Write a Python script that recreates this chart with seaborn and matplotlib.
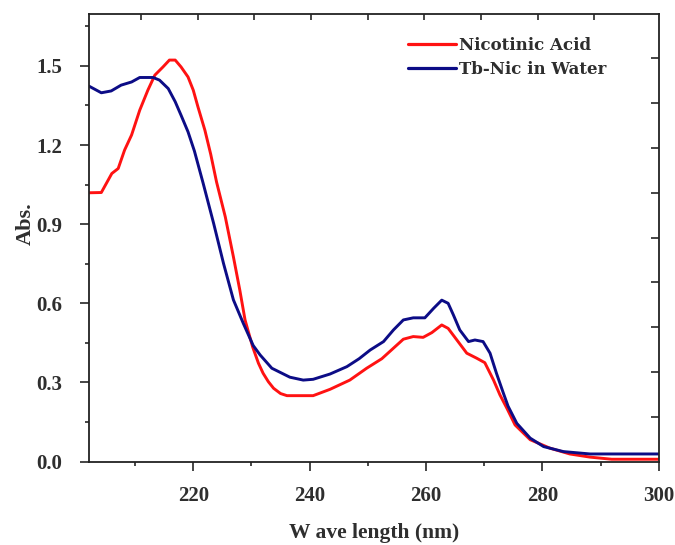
import numpy as np
import pandas as pd
import matplotlib
matplotlib.use("Agg")
import matplotlib.pyplot as plt
import seaborn as sns

# Nicotinic Acid
wl_red = [202.1, 204.2, 206.0, 207.1, 208.2, 209.4, 210.8, 212.2, 213.4, 214.8, 215.9, 216.9,
          217.9, 219.1, 220.0, 220.8, 222.0, 223.0, 224.0, 225.5, 226.9, 228.0, 228.9, 230.2,
          231.2, 232.0, 232.9, 233.8, 235.0, 236.1, 240.6, 243.5, 246.9, 249.8, 252.4, 254.4,
          256.1, 257.8, 259.5, 261.0, 262.7, 263.8, 265.3, 267.0, 268.7, 270.1, 271.6, 272.7,
          273.9, 275.3, 277.9, 281.3, 284.7, 288.2, 291.9, 300.0]
abs_red = [1.019, 1.020, 1.092, 1.111, 1.181, 1.238, 1.332, 1.408, 1.465, 1.496, 1.522, 1.522,
           1.496, 1.458, 1.408, 1.345, 1.256, 1.165, 1.060, 0.928, 0.776, 0.650, 0.537, 0.435,
           0.373, 0.335, 0.303, 0.278, 0.258, 0.250, 0.250, 0.274, 0.309, 0.354, 0.390, 0.430,
           0.464, 0.474, 0.471, 0.489, 0.518, 0.505, 0.461, 0.411, 0.392, 0.375, 0.309, 0.253,
           0.202, 0.139, 0.083, 0.051, 0.029, 0.017, 0.009, 0.009]

# Tb-Nic in Water
wl_blue = [202.1, 204.2, 205.9, 207.6, 209.4, 210.8, 213.1, 214.2, 215.7, 216.9, 217.9, 219.1,
           220.2, 221.7, 223.5, 225.2, 226.9, 228.6, 230.3, 231.5, 233.5, 236.6, 238.9, 240.6,
           243.5, 246.4, 248.5, 250.4, 252.7, 254.4, 256.1, 257.8, 259.8, 261.3, 262.7, 263.8,
           264.7, 265.8, 267.3, 268.4, 269.8, 271.0, 272.1, 273.3, 274.1, 275.6, 277.9, 280.2,
           283.6, 288.2, 300.0]
abs_blue = [1.423, 1.398, 1.405, 1.427, 1.439, 1.456, 1.456, 1.446, 1.414, 1.364, 1.313, 1.250,
            1.177, 1.055, 0.903, 0.751, 0.613, 0.524, 0.440, 0.404, 0.354, 0.320, 0.309, 0.312,
            0.332, 0.360, 0.390, 0.423, 0.455, 0.499, 0.537, 0.545, 0.545, 0.581, 0.612, 0.600,
            0.556, 0.499, 0.455, 0.461, 0.455, 0.411, 0.335, 0.259, 0.210, 0.145, 0.089, 0.057,
            0.038, 0.029, 0.029]

series_names = ["Nicotinic Acid", "Tb-Nic in Water"]
x_ticks = [220, 240, 260, 280, 300]
y_ticks = [0.0, 0.3, 0.6, 0.9, 1.2, 1.5]
y_labels = ["0.0", "0.3", "0.6", "0.9", "1.2", "1.5"]

df = pd.concat([
    pd.DataFrame({"wl": wl_red, "abs": abs_red, "series": series_names[0]}),
    pd.DataFrame({"wl": wl_blue, "abs": abs_blue, "series": series_names[1]}),
])

sns.set_style("ticks")
plt.rcParams["font.family"] = ["Liberation Serif", "DejaVu Serif"]

fig = plt.figure(figsize=(6.75, 5.45), dpi=100)
ax = fig.add_axes([0.132, 0.153, 0.844, 0.821])

sns.lineplot(data=df, x="wl", y="abs", hue="series", sort=False,
             palette=["#ff1212", "#0c0c86"], linewidth=2.1, ax=ax, legend=True)
for ln in ax.get_lines():
    ln.set_solid_joinstyle("round")

tick_col = "#2e2e2e"
ax.set_xlim(202.1, 300)
ax.set_ylim(0, 1.696)
ax.set_xticks(x_ticks)
ax.set_xticklabels([str(t) for t in x_ticks], fontsize=15, fontweight="bold", color=tick_col)
ax.set_yticks(y_ticks)
ax.set_yticklabels(y_labels, fontsize=15, fontweight="bold", color=tick_col)
ax.set_xticks([210, 230, 250, 270, 290], minor=True)
ax.set_yticks([0.15, 0.45, 0.75, 1.05, 1.35, 1.65], minor=True)
ax.tick_params(axis="both", which="major", direction="out", length=6.5, width=1.2)
ax.tick_params(axis="both", which="minor", direction="out", length=3, width=1.2)
ax.tick_params(axis="y", which="major", pad=13)
ax.tick_params(axis="x", which="major", pad=11)

for s in ax.spines.values():
    s.set_linewidth(1.3)
    s.set_color("#222222")

# top and right axis ticks (inward, unlabeled)
axt = ax.twiny()
axt.set_xlim(ax.get_xlim())
axt.set_xticks([211.1, 220.8, 230.5, 240.2, 250.0, 259.7, 269.4, 279.2, 288.9])
axt.set_xticklabels([])
axt.tick_params(axis="x", direction="in", length=4, width=1.2)
axr = ax.twinx()
axr.set_ylim(ax.get_ylim())
axr.set_yticks([0.169, 0.340, 0.510, 0.680, 0.849, 1.018, 1.188, 1.358, 1.528])
axr.set_yticklabels([])
axr.tick_params(axis="y", direction="in", length=5.5, width=1.2)
for a in (axt, axr):
    for s in a.spines.values():
        s.set_visible(False)

ax.set_xlabel("W ave length (nm)", fontsize=15.5, fontweight="bold", color=tick_col)
ax.xaxis.set_label_coords(0.5, -0.138)
ax.set_ylabel("Abs.", fontsize=16, fontweight="bold", color=tick_col)
ax.yaxis.set_label_coords(-0.094, 0.533)

leg = ax.legend(loc="upper left", bbox_to_anchor=(0.533, 0.983), frameon=False,
                handlelength=2.9, handletextpad=0.15, labelspacing=0.45,
                prop={"family": ["DejaVu Serif"], "weight": "bold", "size": 12})
for t in leg.get_texts():
    t.set_color(tick_col)
for h in leg.get_lines():
    h.set_linewidth(2.3)

fig.savefig("out.png", dpi=100)
